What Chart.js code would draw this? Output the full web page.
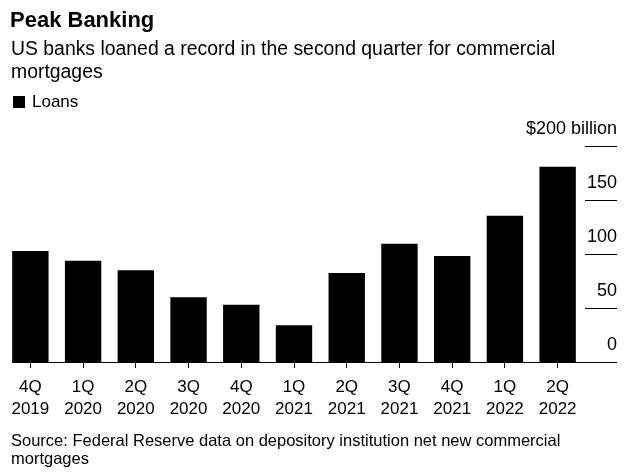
<!DOCTYPE html>
<html>
<head>
<meta charset="utf-8">
<script src="https://cdn.jsdelivr.net/npm/chart.js@4"></script>
<style>
  html, body { margin: 0; padding: 0; background: #fff; }
  #wrap { position: relative; width: 640px; height: 474px; overflow: hidden; font-family: "Liberation Sans", Arial, sans-serif; color: #000; }
  #wrap canvas { position: absolute; left: 0; top: 0; }
  .t { position: absolute; left: 11px; white-space: nowrap; }
  #title { top: 7px; left: 10px; font-size: 22px; font-weight: bold; line-height: 26px; }
  #sub { top: 37px; font-size: 19.4px; line-height: 23.3px; }
  #legend { top: 91px; left: 32px; font-size: 17px; line-height: 22px; }
  #sw { position: absolute; left: 13px; top: 96px; width: 12px; height: 12px; background: #000; }
  #source { top: 431px; font-size: 16.5px; line-height: 18px; }
</style>
</head>
<body>
<div id="wrap">
  <canvas id="c" width="640" height="474"></canvas>
  <div class="t" id="title">Peak Banking</div>
  <div class="t" id="sub">US banks loaned a record in the second quarter for commercial<br>mortgages</div>
  <div id="sw"></div>
  <div class="t" id="legend">Loans</div>
  <div class="t" id="source">Source: Federal Reserve data on depository institution net new commercial<br>mortgages</div>
</div>
<script>
const categories = [["4Q","2019"],["1Q","2020"],["2Q","2020"],["3Q","2020"],["4Q","2020"],["1Q","2021"],["2Q","2021"],["3Q","2021"],["4Q","2021"],["1Q","2022"],["2Q","2022"]];
const loans = [102.8, 93.8, 84.9, 59.9, 53.1, 34.0, 82.4, 109.5, 98.1, 135.5, 180.8];
const yTicks = [0, 50, 100, 150, 200];
const yTickLabels = ["0", "50", "100", "150", "$200 billion"];

const rightAxisPlugin = {
  id: 'rightAxis',
  afterDraw(chart) {
    const ctx = chart.ctx;
    const y = chart.scales.y;
    const x0 = 12, x1 = 617, gx0 = 585;
    ctx.save();
    ctx.strokeStyle = '#000';
    ctx.lineWidth = 1;
    const yb = Math.round(y.getPixelForValue(0)) + 0.5;
    ctx.beginPath(); ctx.moveTo(x0, yb); ctx.lineTo(x1, yb); ctx.stroke();
    ctx.font = '18px "Liberation Sans", Arial, sans-serif';
    ctx.fillStyle = '#000';
    ctx.textAlign = 'right';
    ctx.textBaseline = 'middle';
    yTicks.forEach((v, i) => {
      const py = Math.round(y.getPixelForValue(v)) + 0.5;
      if (v !== 0) {
        ctx.beginPath(); ctx.moveTo(gx0, py); ctx.lineTo(x1, py); ctx.stroke();
      }
      ctx.fillText(yTickLabels[i], x1, py - 17);
    });
    ctx.restore();
  }
};

new Chart(document.getElementById('c'), {
  type: 'bar',
  data: {
    labels: categories,
    datasets: [{
      label: 'Loans',
      data: loans,
      backgroundColor: '#000',
      borderWidth: 0,
      barPercentage: 0.69,
      categoryPercentage: 1.0
    }]
  },
  options: {
    responsive: false,
    animation: false,
    layout: { padding: { top: 146, left: 4, right: 56, bottom: 0 } },
    plugins: { legend: { display: false }, title: { display: false }, tooltip: { enabled: false } },
    scales: {
      x: {
        grid: { display: true, drawOnChartArea: false, drawTicks: true, tickLength: 6, offset: false, color: '#000', lineWidth: 1 },
        border: { display: false },
        ticks: { color: '#000', padding: 8, maxRotation: 0, autoSkip: false, font: { family: '"Liberation Sans", Arial, sans-serif', size: 17, lineHeight: 1.3 } },
        afterFit(scale) { scale.height = 112; }
      },
      y: {
        display: false,
        min: 0,
        max: 200
      }
    }
  },
  plugins: [rightAxisPlugin]
});
</script>
</body>
</html>
